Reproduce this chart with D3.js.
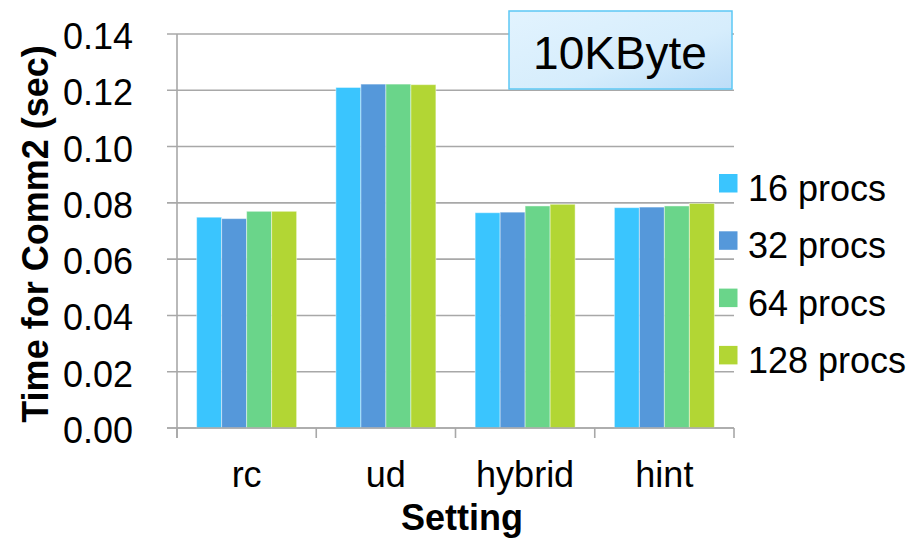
<!DOCTYPE html>
<html><head><meta charset="utf-8">
<script src="https://cdn.jsdelivr.net/npm/d3@7"></script>
<style>
html,body{margin:0;padding:0;background:#fff;}
svg{display:block;font-family:"Liberation Sans",Arial,sans-serif;}
</style></head>
<body>
<svg id="chart" width="915" height="543"></svg>
<script>
const categories = ["rc", "ud", "hybrid", "hint"];
const seriesNames = ["16 procs", "32 procs", "64 procs", "128 procs"];
const procs16  = [0.0749, 0.1210, 0.0765, 0.0783];
const procs32  = [0.0744, 0.1222, 0.0767, 0.0785];
const procs64  = [0.0770, 0.1222, 0.0789, 0.0789];
const procs128 = [0.0770, 0.1220, 0.0795, 0.0798];
const yTicks = [0, 0.02, 0.04, 0.06, 0.08, 0.10, 0.12, 0.14];
const colors = ["#3AC5FE", "#5598DA", "#6AD58A", "#B2D634"];
const titleText = "10KByte";
const xTitle = "Setting";
const yTitle = "Time for Comm2 (sec)";

const series = [procs16, procs32, procs64, procs128];
const svg = d3.select("#chart");
const pLeft = 177, pRight = 734, pTop = 34, pBottom = 428;

const x = d3.scaleBand().domain(categories).range([pLeft, pRight]).padding(0);
const x1 = d3.scaleBand().domain(seriesNames).range([0, x.bandwidth()]).paddingInner(0).paddingOuter(0.785);
const y = d3.scaleLinear().domain([0, 0.14]).range([pBottom, pTop]);
const color = d3.scaleOrdinal().domain(seriesNames).range(colors);

// gridlines and y ticks
const grid = svg.append("g");
grid.selectAll("line").data(yTicks).join("line")
  .attr("x1", pLeft - 10).attr("x2", pRight)
  .attr("y1", d => y(d)).attr("y2", d => y(d))
  .attr("stroke", "#a8a8a8").attr("stroke-width", 1.6);
svg.append("g").selectAll("text").data(yTicks).join("text")
  .attr("x", 133).attr("y", d => y(d) + 15)
  .attr("text-anchor", "end").attr("font-size", 36).attr("fill", "#000")
  .text(d3.format(".2f"));

// bars
const groups = svg.append("g").selectAll("g").data(categories).join("g")
  .attr("transform", c => `translate(${x(c)},0)`);
groups.selectAll("rect")
  .data((c, ci) => seriesNames.map((s, si) => ({s, v: series[si][ci]})))
  .join("rect")
  .attr("x", d => x1(d.s)).attr("width", x1.bandwidth())
  .attr("y", d => y(d.v)).attr("height", d => y(0) - y(d.v))
  .attr("fill", d => color(d.s))
  .attr("stroke", "rgba(255,255,255,0.45)").attr("stroke-width", 1);

// axes lines
svg.append("line").attr("x1", pLeft).attr("x2", pLeft).attr("y1", pTop).attr("y2", pBottom + 10)
  .attr("stroke", "#a8a8a8").attr("stroke-width", 1.6);
const xb = [pLeft].concat(categories.map(c => x(c) + x.bandwidth()));
svg.append("g").selectAll("line").data(xb).join("line")
  .attr("x1", d => d).attr("x2", d => d).attr("y1", pBottom).attr("y2", pBottom + 10)
  .attr("stroke", "#a8a8a8").attr("stroke-width", 1.6);
svg.append("line").attr("x1", pLeft - 10).attr("x2", pRight).attr("y1", pBottom).attr("y2", pBottom)
  .attr("stroke", "#a8a8a8").attr("stroke-width", 1.6);

// x labels
svg.append("g").selectAll("text").data(categories).join("text")
  .attr("x", c => x(c) + x.bandwidth() / 2).attr("y", 487)
  .attr("text-anchor", "middle").attr("font-size", 36).text(d => d);

svg.append("text").attr("x", 462).attr("y", 530).attr("text-anchor", "middle")
  .attr("font-size", 36).attr("font-weight", "bold").text(xTitle);
svg.append("text").attr("transform", "translate(48,234) rotate(-90)")
  .attr("text-anchor", "middle").attr("font-size", 36).attr("font-weight", "bold").text(yTitle);

// title box
const defs = svg.append("defs");
const grad = defs.append("linearGradient").attr("id", "tg")
  .attr("x1", "0%").attr("y1", "0%").attr("x2", "100%").attr("y2", "100%");
grad.append("stop").attr("offset", "0%").attr("stop-color", "#E2F3FE");
grad.append("stop").attr("offset", "60%").attr("stop-color", "#D6EDFC");
grad.append("stop").attr("offset", "100%").attr("stop-color", "#BCDDF8");
svg.append("rect").attr("x", 509).attr("y", 11).attr("width", 223).attr("height", 78)
  .attr("fill", "url(#tg)").attr("stroke", "#5CC8F5").attr("stroke-width", 1.5);
svg.append("text").attr("x", 620).attr("y", 69).attr("text-anchor", "middle")
  .attr("font-size", 46).text(titleText);

// legend
const leg = svg.append("g").selectAll("g").data(seriesNames).join("g")
  .attr("transform", (d, i) => `translate(719,${174 + i * 57.3})`);
leg.append("rect").attr("width", 18.5).attr("height", 18.5).attr("fill", d => color(d));
leg.append("text").attr("x", 29).attr("y", 27).attr("font-size", 36).text(d => d);
</script>
</body></html>
